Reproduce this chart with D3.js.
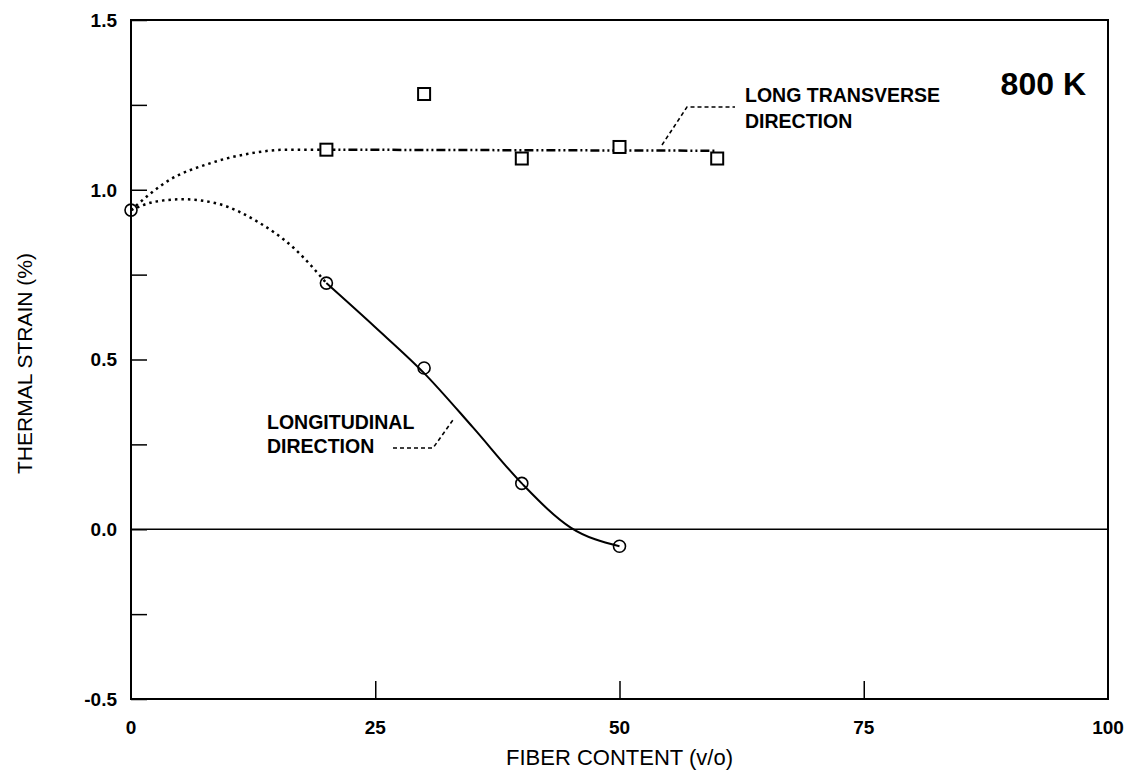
<!DOCTYPE html>
<html><head><meta charset="utf-8">
<script src="https://cdn.jsdelivr.net/npm/d3@7"></script>
<style>
html,body{margin:0;padding:0;background:#fff;}
svg{display:block;font-family:"Liberation Sans",Arial,Helvetica,sans-serif;}
</style></head>
<body><svg id="c" width="1131" height="776"></svg>
<script>
// ---- data ----
const longX = [0, 20, 30, 40, 50];
const longY = [0.94, 0.725, 0.475, 0.135, -0.05];
const transX = [20, 30, 40, 50, 60];
const transY = [1.118, 1.282, 1.092, 1.126, 1.092];
// fitted curves
const transFitDotX = [0, 4, 8, 12, 16, 20];
const transFitDotY = [0.94, 1.03, 1.077, 1.106, 1.118, 1.118];
const transFitX = [20, 60];
const transFitY = [1.118, 1.115];
const longFitDotX = [0, 2.5, 5.3, 9, 13, 16.6, 20];
const longFitDotY = [0.94, 0.965, 0.972, 0.958, 0.905, 0.83, 0.725];
const longFitX = [20, 25, 30, 35, 40, 45, 50];
const longFitY = [0.725, 0.595, 0.46, 0.3, 0.135, 0.005, -0.05];
const xTicks = [0, 25, 50, 75, 100];
const yTicks = [-0.5, -0.25, 0, 0.25, 0.5, 0.75, 1.0, 1.25, 1.5];
const yLabels = ["-0.5", "0.0", "0.5", "1.0", "1.5"];

const svg = d3.select("#c");
const L = 131, R = 1108, T = 20, B = 699;
const x = d3.scaleLinear().domain([0, 100]).range([L, R]);
const y = d3.scaleLinear().domain([-0.5, 1.5]).range([B, T]);

// frame
svg.append("rect").attr("x", L).attr("y", T).attr("width", R - L).attr("height", B - T)
  .attr("fill", "none").attr("stroke", "#000").attr("stroke-width", 2);

// y axis ticks (inward)
const ya = d3.axisRight(y).tickValues(yTicks).tickSize(16).tickFormat(d => "");
const gy = svg.append("g").attr("transform", `translate(${L},0)`).call(ya);
gy.select(".domain").remove();
gy.selectAll("line").attr("stroke-width", 1.5);
svg.append("g").selectAll("text").data(yLabels).join("text")
  .attr("x", L - 14).attr("y", d => y(+d)).attr("dy", "0.36em")
  .attr("text-anchor", "end").attr("font-size", 19).attr("font-weight", "bold")
  .text(d => d);

// x axis ticks (inward)
const xa = d3.axisTop(x).tickValues([25, 50, 75]).tickSize(18).tickFormat(d => "");
const gx = svg.append("g").attr("transform", `translate(0,${B})`).call(xa);
gx.select(".domain").remove();
gx.selectAll("line").attr("stroke-width", 1.5);
svg.append("g").selectAll("text").data(xTicks).join("text")
  .attr("x", d => x(d)).attr("y", B + 35)
  .attr("text-anchor", "middle").attr("font-size", 19).attr("font-weight", "bold")
  .text(d => d);

// zero line
svg.append("line").attr("x1", L).attr("x2", R).attr("y1", y(0)).attr("y2", y(0))
  .attr("stroke", "#000").attr("stroke-width", 1.5);

// axis titles
svg.append("text").attr("x", (L + R) / 2).attr("y", 765).attr("text-anchor", "middle")
  .attr("font-size", 22).text("FIBER CONTENT (v/o)");
svg.append("text").attr("transform", `translate(32,${(T + B) / 2 + 4}) rotate(-90)`)
  .attr("text-anchor", "middle").attr("font-size", 21).text("THERMAL STRAIN (%)");

// curves
const mk = (xs, ys) => xs.map((d, i) => [d, ys[i]]);
const line = d3.line().x(d => x(d[0])).y(d => y(d[1])).curve(d3.curveMonotoneX);
const lineLin = d3.line().x(d => x(d[0])).y(d => y(d[1]));
svg.append("path").attr("d", line(mk(transFitDotX, transFitDotY)))
  .attr("fill", "none").attr("stroke", "#000").attr("stroke-width", 2.5)
  .attr("stroke-dasharray", "2.5,4");
svg.append("path").attr("d", line(mk(longFitDotX, longFitDotY)))
  .attr("fill", "none").attr("stroke", "#000").attr("stroke-width", 2.5)
  .attr("stroke-dasharray", "2.5,4");
svg.append("path").attr("d", lineLin(mk(transFitX, transFitY)))
  .attr("fill", "none").attr("stroke", "#000").attr("stroke-width", 2.5)
  .attr("stroke-dasharray", "9,3,2,3,2,3");
svg.append("path").attr("d", line(mk(longFitX, longFitY)))
  .attr("fill", "none").attr("stroke", "#000").attr("stroke-width", 2);

// markers
svg.append("g").selectAll("circle").data(mk(longX, longY)).join("circle")
  .attr("cx", d => x(d[0])).attr("cy", d => y(d[1])).attr("r", 6)
  .attr("fill", "none").attr("stroke", "#000").attr("stroke-width", 1.6);
svg.append("g").selectAll("rect").data(mk(transX, transY)).join("rect")
  .attr("x", d => x(d[0]) - 6).attr("y", d => y(d[1]) - 6).attr("width", 12).attr("height", 12)
  .attr("fill", "#fff").attr("stroke", "#000").attr("stroke-width", 2);

// annotations
const ann = svg.append("g").attr("font-size", 19.5).attr("font-weight", "bold");
ann.append("text").attr("x", 745).attr("y", 102).text("LONG TRANSVERSE");
ann.append("text").attr("x", 745).attr("y", 128).text("DIRECTION");
ann.append("text").attr("x", 267).attr("y", 429).text("LONGITUDINAL");
ann.append("text").attr("x", 267).attr("y", 453).text("DIRECTION");
svg.append("text").attr("x", 1086).attr("y", 95).attr("text-anchor", "end")
  .attr("font-size", 32).attr("font-weight", "bold").text("800 K");

// leader lines
svg.append("polyline").attr("points", "662,145 687,107 735,107")
  .attr("fill", "none").attr("stroke", "#000").attr("stroke-width", 1.6).attr("stroke-dasharray", "4,3");
svg.append("polyline").attr("points", "393,448 433,448 453,420")
  .attr("fill", "none").attr("stroke", "#000").attr("stroke-width", 1.6).attr("stroke-dasharray", "4,3");
</script></body></html>
